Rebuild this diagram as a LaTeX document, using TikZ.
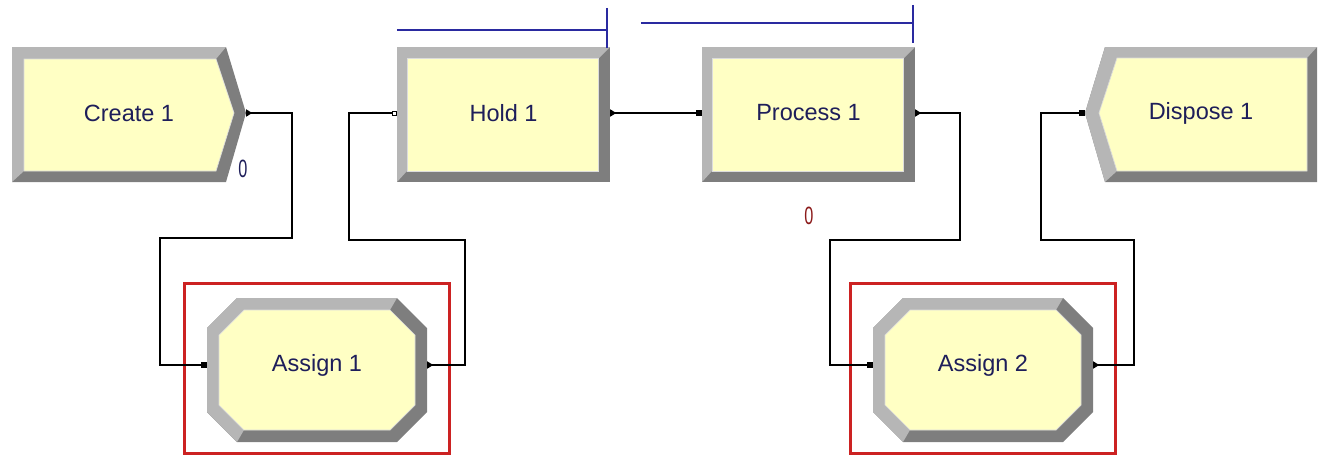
\documentclass[tikz,border=0pt]{standalone}
\usepackage{fontspec}
\setmainfont{Liberation Sans}
\usetikzlibrary{arrows.meta}

\definecolor{modface}{HTML}{FFFFC4}
\definecolor{bevlight}{HTML}{B6B6B6}
\definecolor{bevdark}{HTML}{7E7E7E}
\definecolor{bevedge}{HTML}{DCDCDC}
\definecolor{modtext}{HTML}{1E1E5A}
\definecolor{queueblue}{HTML}{2A2AA0}
\definecolor{countred}{HTML}{8B1A1A}
\definecolor{selred}{HTML}{CC2222}

\tikzset{
  modlabel/.style={text=modtext, font=\fontsize{23.5}{28}\selectfont, inner sep=0pt},
  countlabel/.style={font=\fontsize{25}{30}\selectfont, inner sep=0pt},
  facefill/.style={fill=modface, draw=bevedge, line width=0.7pt},
  portline/.style={line width=1.7pt,
    {Triangle[reversed,length=6pt,width=7pt]}-{Square[length=6pt,width=6pt]}},
  holdline/.style={line width=1.7pt,
    {Triangle[reversed,length=6pt,width=7pt]}-{Square[open,length=5pt,width=5pt,line width=1pt]}},
  queueline/.style={draw=queueblue, line width=1.5pt},
  selbox/.style={draw=selred, line width=3pt}
}

\begin{document}
\begin{tikzpicture}[x=1pt, y=-1pt]
  \useasboundingbox (0,0) rectangle (1330,456);

  % Create module (chevron pointing right).
  \fill[bevdark] (12,47) -- (226,47) -- (246,113) -- (226,182) -- (12,182) -- cycle;
  \fill[bevlight] (12,182) -- (12,47) -- (226,47) -- (216,59) -- (24,59) -- (24,171) -- cycle;
  \filldraw[facefill] (24,59) -- (216,59) -- (234,113) -- (216,171) -- (24,171) -- cycle;
  \node[modlabel, minimum width=234pt, minimum height=135pt] (create1) at (129,113) {Create 1};

  % Dispose module (notch on the left).
  \fill[bevdark] (1105,47) -- (1317,47) -- (1317,182) -- (1105,182) -- (1085,113) -- cycle;
  \fill[bevlight] (1105,182) -- (1085,113) -- (1105,47) -- (1317,47) -- (1307,58)
    -- (1117,58) -- (1099,113) -- (1117,171) -- cycle;
  \filldraw[facefill] (1117,58) -- (1307,58) -- (1307,171) -- (1117,171) -- (1099,113) -- cycle;
  \node[modlabel, minimum width=232pt, minimum height=135pt] (dispose1) at (1201,113) {Dispose 1};

  % Hold and Process modules (bevelled rectangles).
  \foreach \x/\n/\t in {397/hold1/Hold 1,702/process1/Process 1} {
    \fill[bevdark] (\x,47) rectangle ++(213,135);
    \fill[bevlight] (\x,182) -- (\x,47) -- (\x+213,47) -- (\x+202,58) -- (\x+10,58) -- (\x+10,171) -- cycle;
    \filldraw[facefill] (\x+10,58) rectangle (\x+201,171);
    \node[modlabel, minimum width=213pt, minimum height=132pt] (\n) at (\x+106.5,113) {\t};
  }

  % Assign modules (octagons inside a red selection box).
  \foreach \x/\n/\t in {317/assign1/Assign 1,983/assign2/Assign 2} {
    \fill[bevdark] (\x-80,298) -- (\x+80,298) -- (\x+110,328) -- (\x+110,412)
      -- (\x+80,442) -- (\x-80,442) -- (\x-110,412) -- (\x-110,328) -- cycle;
    \fill[bevlight] (\x-80,442) -- (\x-110,412) -- (\x-110,328) -- (\x-80,298) -- (\x+80,298)
      -- (\x+73,310) -- (\x-73,310) -- (\x-98,335) -- (\x-98,405) -- (\x-73,430) -- cycle;
    \filldraw[facefill] (\x-73,310) -- (\x+73,310) -- (\x+98,335) -- (\x+98,405)
      -- (\x+73,430) -- (\x-73,430) -- (\x-98,405) -- (\x-98,335) -- cycle;
    \node[modlabel, minimum width=220pt, minimum height=144pt] (\n) at (\x,365) {\t};
    \draw[selbox] (\x-133,283) rectangle (\x+132,453);
  }

  % Queue lines above Hold 1 and Process 1.
  \draw[queueline] ([yshift=17pt]hold1.north west) -- ([xshift=-3pt,yshift=17pt]hold1.north east);
  \draw[queueline] ([xshift=-3pt,yshift=39pt]hold1.north east) -- ([xshift=-3pt,yshift=-1pt]hold1.north east);
  \draw[queueline] ([xshift=-61pt,yshift=24pt]process1.north west) -- ([xshift=-2pt,yshift=24pt]process1.north east);
  \draw[queueline] ([xshift=-2pt,yshift=42pt]process1.north east) -- ([xshift=-2pt,yshift=4pt]process1.north east);

  % Counters.
  \node[countlabel, text=modtext] (create1count) at (243,169) {\scalebox{0.65}[1]{0}};
  \node[countlabel, text=countred] (process1count) at (809,216) {\scalebox{0.65}[1]{0}};

  % Connectors.
  \draw[portline] (create1.east) -- ++(46,0) |- ++(-132,125) |- (assign1.west);
  \draw[holdline] (assign1.east) -- ++(38,0) |- ++(-116,-125) |- (hold1.west);
  \draw[portline] (hold1.east) -- (process1.west);
  \draw[portline] (process1.east) -- ++(45,0) |- ++(-130,127) |- (assign2.west);
  \draw[portline] (assign2.east) -- ++(41,0) |- ++(-93,-125) |- (dispose1.west);
\end{tikzpicture}
\end{document}
